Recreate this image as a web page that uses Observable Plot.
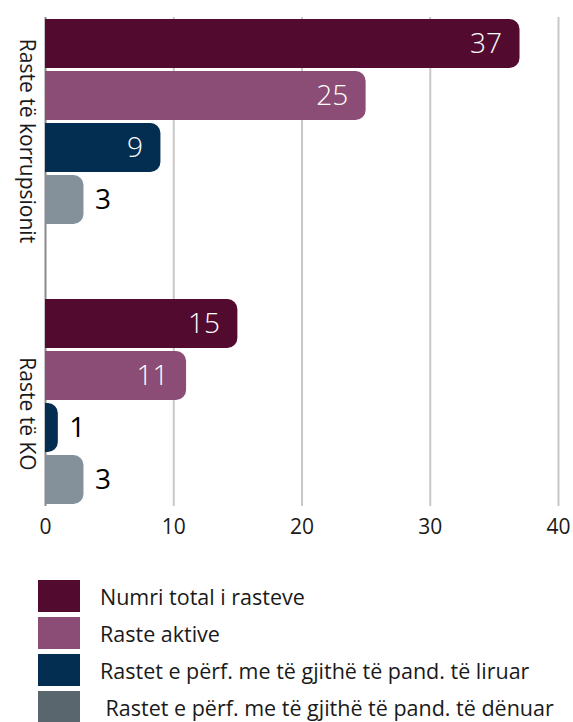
<!DOCTYPE html>
<html><head><meta charset="utf-8">
<script src="https://cdn.jsdelivr.net/npm/d3@7"></script>
<script src="https://cdn.jsdelivr.net/npm/@observablehq/plot@0.6"></script>
<style>
body{margin:0;background:#fff;font-family:"Open Sans",sans-serif;}
#chart svg{display:block}
.legend{margin-left:38px;margin-top:20px}
.item{display:flex;align-items:center;height:32px;margin-bottom:5px}
.sw{width:42px;height:32px;margin-right:20px;flex:none}
.lbl{font-size:21.5px;color:#1a1a1a;white-space:pre}
</style></head><body>
<div id="chart"></div><div class="legend" id="legend"></div>
<script>
const groups = ["Raste të korrupsionit", "Raste të KO"];
const series = [
  "Numri total i rasteve",
  "Raste aktive",
  "Rastet e përf. me të gjithë të pand. të liruar",
  "Rastet e përf. me të gjithë të pand. të dënuar"
];
const legendLabels = [
  "Numri total i rasteve",
  "Raste aktive",
  "Rastet e përf. me të gjithë të pand. të liruar",
  " Rastet e përf. me të gjithë të pand. të dënuar"
];
const korrupsionitValues = [37, 25, 9, 3];
const koValues = [15, 11, 1, 3];
const xTicks = [0, 10, 20, 30, 40];
const gridTicks = [0, 10, 20, 30, 40];
const barColors = ["#520b2f", "#8b4d75", "#032e52", "#85919a"];
const legendColors = ["#520b2f", "#8b4d75", "#032e52", "#59666d"];

const valuesByGroup = [korrupsionitValues, koValues];
const rows = groups.flatMap((g, gi) => series.map((s, si) => ({group: g, series: s, value: valuesByGroup[gi][si]})));
const inside = rows.filter(d => d.value >= 9);
const outside = rows.filter(d => d.value < 9);
const gridTop = gridTicks.map(x => ({group: groups[0], x}));
const gridBottom = gridTicks.map(x => ({group: groups[1], x}));
const gridStroke = d => d.x === 0 ? "#8a8a8a" : "#c8c8c8";
const groupLabelStyle = {fy: d => d, text: d => d, frameAnchor: "left", rotate: 90, textAnchor: "middle", lineAnchor: "middle", dx: -19, fontSize: 21, fill: "#1a1a1a"};

const chart = Plot.plot({
  width: 573, height: 560,
  marginTop: 17, marginBottom: 54, marginLeft: 45, marginRight: 15,
  style: {fontFamily: "Open Sans", background: "white", fontSize: "21px"},
  x: {domain: [0, 40]},
  y: {domain: series, paddingInner: 0.0566, paddingOuter: 0, axis: null},
  fy: {domain: groups, paddingInner: 0.2536, paddingOuter: 0, axis: null},
  color: {domain: series, range: barColors},
  marks: [
    Plot.ruleX(gridTop, {x: "x", fy: "group", stroke: gridStroke, strokeWidth: 2, insetBottom: -71}),
    Plot.ruleX(gridBottom, {x: "x", fy: "group", stroke: gridStroke, strokeWidth: 2}),
    Plot.barX(rows, {x: "value", y: "series", fy: "group", fill: "series", rx2: 10}),
    Plot.text(inside, {x: "value", y: "series", fy: "group", text: d => String(d.value), textAnchor: "end", dx: -18, fill: "white", fontSize: 28, fontWeight: 300}),
    Plot.text(outside, {x: "value", y: "series", fy: "group", text: d => String(d.value), textAnchor: "start", dx: 11, fill: "#000", fontSize: 28, fontWeight: 400}),
    Plot.text([groups[0]], {...groupLabelStyle, dy: 19}),
    Plot.text([groups[1]], {...groupLabelStyle, dy: 12}),
    Plot.axisX({ticks: xTicks, tickSize: 0, tickPadding: 13, fontSize: 21, fill: "#1a1a1a", label: null})
  ]
});
document.getElementById("chart").appendChild(chart);

const legend = document.getElementById("legend");
legendLabels.forEach((l, i) => {
  const item = document.createElement("div");
  item.className = "item";
  const sw = document.createElement("div");
  sw.className = "sw"; sw.style.background = legendColors[i];
  const lb = document.createElement("div");
  lb.className = "lbl"; lb.textContent = l;
  item.appendChild(sw); item.appendChild(lb);
  legend.appendChild(item);
});
</script></body></html>
